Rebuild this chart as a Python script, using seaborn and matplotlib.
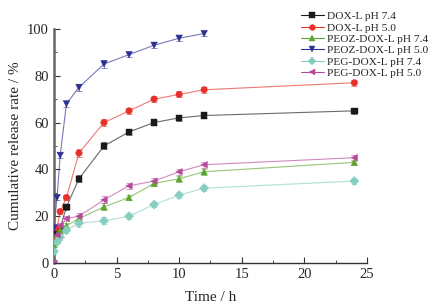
import numpy as np
import pandas as pd
import seaborn as sns
import matplotlib.pyplot as plt
from matplotlib.ticker import MultipleLocator

# release data
time = [0, 0.25, 0.5, 1, 2, 4, 6, 8, 10, 12, 24]
dox_74 = [10, 13, 15, 24, 36, 50, 56, 60, 62, 63, 65]
dox_50 = [10, 15, 22, 28, 47, 60, 65, 70, 72, 74, 77]
peoz_74 = [8, 12, 14, 16, 19, 24, 28, 34, 36, 39, 43]
peoz_50 = [15, 28, 46, 68, 75, 85, 89, 93, 96, 98]
peg_74 = [5, 9, 11, 14, 17, 18, 20, 25, 29, 32, 35]
peg_50 = [0, 12, 16, 19, 20, 27, 33, 35, 39, 42, 45]
err = [1.0, 1.0, 1.2, 1.2, 1.5, 1.5, 1.2, 1.2, 1.3, 1.2, 1.2]

labels = ["DOX-L pH 7.4", "DOX-L pH 5.0", "PEOZ-DOX-L pH 7.4",
          "PEOZ-DOX-L pH 5.0", "PEG-DOX-L pH 7.4", "PEG-DOX-L pH 5.0"]
series = [dox_74, dox_50, peoz_74, peoz_50, peg_74, peg_50]
colors = ["#1a1a1a", "#e8302a", "#5ca52e", "#2d3192", "#86cfc0", "#b8489c"]
markers = ["s", "o", "^", "v", "D", "<"]

rows = []
for lab, vals in zip(labels, series):
    for t, v in zip(time, vals):
        rows.append({"Time": t, "Release": v, "Sample": lab})
df = pd.DataFrame(rows)
pal = dict(zip(labels, colors))

sns.set_style("ticks")
plt.rcParams['font.family'] = ['Liberation Serif', 'DejaVu Serif']

fig = plt.figure(figsize=(4.42, 3.07), dpi=100)
ax = fig.add_axes([0.122, 0.143, 0.708, 0.763])

#error bars first, then faded lines, then solid markers on top
for lab, vals, c in zip(labels, series, colors):
    n = len(vals)
    ax.errorbar(time[:n], vals, yerr=err[:n], fmt="none", ecolor=c,
                alpha=0.55, elinewidth=0.7, capsize=2, capthick=0.7)

sns.lineplot(data=df, x="Time", y="Release", hue="Sample", palette=pal,
             ax=ax, linewidth=0.8, alpha=0.65, legend=False)
sns.scatterplot(data=df, x="Time", y="Release", hue="Sample", style="Sample",
                palette=pal, markers=dict(zip(labels, markers)), s=22,
                linewidth=0.3, edgecolor="face", ax=ax, legend=False, zorder=3)

# legend handles with thin faded line and solid marker
handles = []
for lab, c, m in zip(labels, colors, markers):
    h = plt.Line2D([], [], color=c, marker=m, markersize=4.2, linewidth=0.8,
                   markeredgewidth=0.3, label=lab)
    handles.append(h)
fig.legend(handles=handles, loc="upper right", bbox_to_anchor=(0.995, 1.0),
           frameon=False, fontsize=8.2, handlelength=2.0, handletextpad=0.3,
           labelspacing=0.12, borderpad=0.5)

ax.set_xlim(0, 25)
ax.set_ylim(0, 100)
ax.xaxis.set_major_locator(MultipleLocator(5))
ax.xaxis.set_minor_locator(MultipleLocator(2.5))
ax.yaxis.set_major_locator(MultipleLocator(20))
ax.yaxis.set_minor_locator(MultipleLocator(10))
ax.tick_params(which="both", direction="in", labelsize=10.5, color="#333333")
ax.tick_params(which="major", length=4)
ax.tick_params(which="minor", length=2.5)
ax.set_xlabel("Time / h", fontsize=11, labelpad=7)
ax.set_ylabel("Cumulative release rate / %", fontsize=11, labelpad=4)
sns.despine(ax=ax)
ax.spines["left"].set_linewidth(1.8)
ax.spines["left"].set_color("#666666")
ax.spines["bottom"].set_linewidth(1.0)
ax.spines["bottom"].set_color("#333333")

fig.savefig("out.png", dpi=100)
